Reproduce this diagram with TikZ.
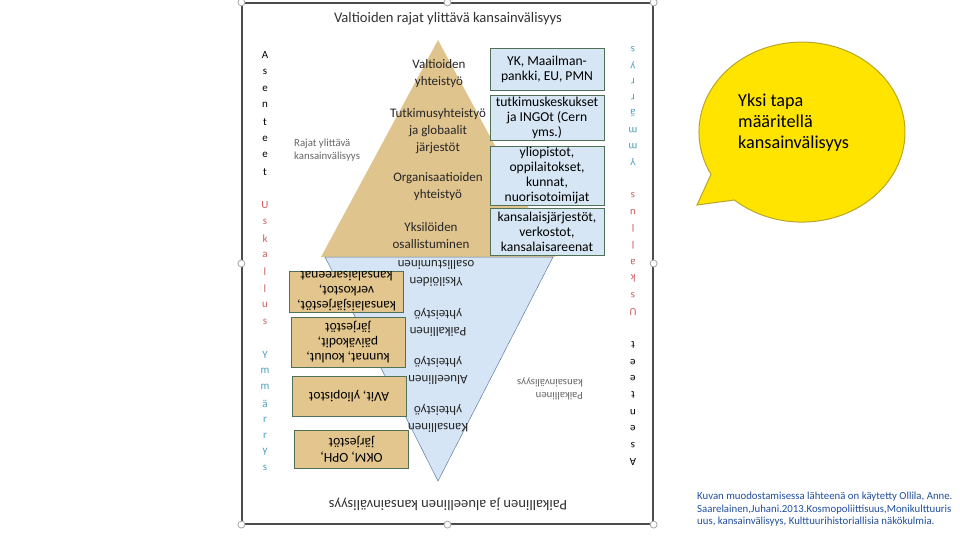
\documentclass[tikz,border=0pt]{standalone}
\usepackage{fontspec}
\setmainfont{Carlito}
\usetikzlibrary{positioning}
\definecolor{pyramid}{RGB}{224,196,142}
\definecolor{skyfill}{RGB}{213,229,245}
\definecolor{skyline}{RGB}{95,125,160}
\definecolor{boxblue}{RGB}{214,230,244}
\definecolor{boxtan}{RGB}{226,198,142}
\definecolor{boxline}{RGB}{80,112,88}
\definecolor{redword}{RGB}{205,95,95}
\definecolor{blueword}{RGB}{75,160,190}
\definecolor{bubble}{RGB}{255,228,0}
\definecolor{bubbleline}{RGB}{185,165,40}
\definecolor{citeblue}{RGB}{32,78,158}

\begin{document}
\begin{tikzpicture}[x=1pt, y=-1pt,
  box/.style={draw=boxline, line width=0.8pt, minimum width=114pt, align=center, inner sep=0pt, font=\fontsize{13.6}{15}\selectfont},
  bluebox/.style={box, fill=boxblue},
  tanbox/.style={box, fill=boxtan, rotate=180},
  lvl/.style={align=center, inner sep=0pt, font=\fontsize{13}{17}\selectfont, text=black!85},
  lvlflip/.style={lvl, rotate=180},
  letter/.style={inner sep=0pt, font=\fontsize{11}{11}\selectfont},
  tag/.style={align=left, inner sep=0pt, font=\fontsize{10.8}{13}\selectfont, text=black!60},
  heading/.style={inner sep=0pt, font=\fontsize{14.6}{16}\selectfont, text=black!80}]
  \useasboundingbox (0,0) rectangle (960,540);
  \node[draw=black!70, line width=1.2pt, minimum width=411pt, minimum height=521pt, inner sep=0pt] (frame) at (447.5,263.5) {};
  \foreach \a in {north, south, east, west, north east, north west, south east, south west}
    \draw[fill=white, draw=black!35, line width=0.8pt] (frame.\a) circle (3.5);

  \fill[pyramid] (438,40) -- (555,257) -- (321,257) -- cycle;
  \filldraw[fill=skyfill, draw=skyline, line width=0.5pt] (325,257) -- (553,257) -- (438,481) -- cycle;

  \node[heading] (toptitle) at (448,19) {Valtioiden rajat ylittävä kansainvälisyys};
  \node[heading, rotate=180] (bottitle) at (448,504) {Paikallinen ja alueellinen kansainvälisyys};

  \foreach \word/\col/\ytop/\dy [count=\w] in {{A,s,e,n,t,e,e,t}/black/55/16.7, {U,s,k,a,l,l,u,s}/redword/205/16.7, {Y,m,m,ä,r,r,y,s}/blueword/355/16.15}{
    \foreach \ch [count=\i] in \word {
      \node[letter, text=\col] (left\w-\i) at (265,\ytop+\dy*\i-\dy) {\ch};
      \node[letter, text=\col, rotate=180] (right\w-\i) at (633,517-\ytop-\dy*\i+\dy) {\ch};
    }
  }

  \node[lvl] (valtio) at (439,73.5) {Valtioiden\\yhteistyö};
  \node[lvl] (tutkimus) at (438,131) {Tutkimusyhteistyö\\ja globaalit\\järjestöt};
  \node[lvl] (organis) at (438,187) {Organisaatioiden\\yhteistyö};
  \node[lvl] (yksil) at (431,236) {Yksilöiden\\osallistuminen};

  \node[lvlflip] (yksilflip) at (436,273) {Yksilöiden\\osallistuminen};
  \node[lvlflip] (paikal) at (438,322) {Paikallinen\\yhteistyö};
  \node[lvlflip] (alue) at (438,370) {Alueellinen\\yhteistyö};
  \node[lvlflip] (kansal) at (438,418) {Kansallinen\\yhteistyö};

  \node[bluebox, minimum height=42pt] (yk) at (547,69) {YK, Maailman-\\pankki, EU, PMN};
  \node[bluebox, minimum height=45pt] (ingo) at (547,117.5) {tutkimuskeskukset\\ja INGOt (Cern\\yms.)};
  \node[bluebox, minimum height=59pt] (yliop) at (547,175.5) {yliopistot,\\oppilaitokset,\\kunnat,\\nuorisotoimijat};
  \node[bluebox, minimum height=47pt] (kansjar) at (547,231.5) {kansalaisjärjestöt,\\verkostot,\\kansalaisareenat};

  \node[tanbox, minimum height=41pt] (kansjarflip) at (346.5,291.5) {kansalaisjärjestöt,\\verkostot,\\kansalaisareenat};
  \node[tanbox, minimum height=50pt] (kunnat) at (348,342) {kunnat, koulut,\\päiväkodit,\\järjestöt};
  \node[tanbox, minimum height=40pt] (avit) at (349,396) {AVit, yliopistot};
  \node[tanbox, minimum height=38pt] (okm) at (351.5,449) {OKM, OPH,\\järjestöt};

  \node[tag, anchor=west] (rajat) at (294,150.5) {Rajat ylittävä\\kansainvälisyys};
  \node[tag, anchor=west, rotate=180] (paikkv) at (583,389) {Paikallinen\\kansainvälisyys};

  \filldraw[fill=bubble, draw=bubbleline, line width=1pt] (697,205) -- (734.4,200)
    arc[start angle=131, end angle=-208, x radius=103, y radius=90] -- cycle;
  \node[anchor=west, align=left, inner sep=0pt, font=\fontsize{18.2}{21}\selectfont] (yksi) at (738,123) {Yksi tapa\\määritellä\\kansainvälisyys};

  \node[anchor=west, align=left, inner sep=0pt, text=citeblue, font=\fontsize{10.8}{12.5}\selectfont] (lahde) at (697,509.5) {Kuvan muodostamisessa lähteenä on käytetty Ollila, Anne.\\Saarelainen,Juhani.2013.Kosmopoliittisuus,Monikulttuuris\\uus, kansainvälisyys, Kulttuurihistoriallisia näkökulmia.};
\end{tikzpicture}
\end{document}
